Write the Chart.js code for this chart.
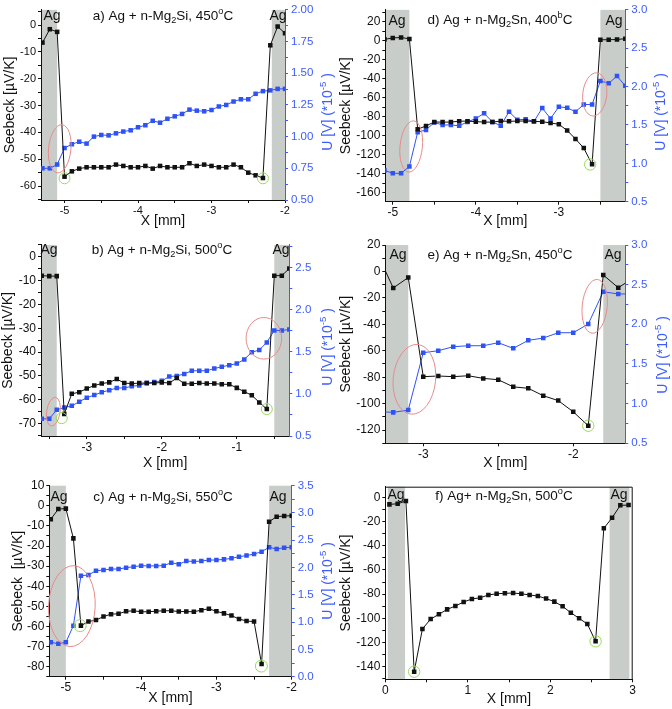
<!DOCTYPE html>
<html>
<head>
<meta charset="utf-8">
<script src="https://cdn.jsdelivr.net/npm/chart.js@4.4.0/dist/chart.umd.min.js"></script>
<style>
  html, body { margin: 0; padding: 0; background: #fff; }
  #wrap { position: relative; width: 672px; height: 709px; }
  canvas { position: absolute; }
</style>
</head>
<body>
<div id="wrap">
  <canvas id="panelA" width="336" height="235" style="left:0;top:0"></canvas>
  <canvas id="panelD" width="336" height="235" style="left:336px;top:0"></canvas>
  <canvas id="panelB" width="336" height="235" style="left:0;top:235px"></canvas>
  <canvas id="panelE" width="336" height="235" style="left:336px;top:235px"></canvas>
  <canvas id="panelC" width="336" height="239" style="left:0;top:470px"></canvas>
  <canvas id="panelF" width="336" height="239" style="left:336px;top:470px"></canvas>
</div>
<script>
// ---- data (x in mm, Seebeck in µV/K, U in 1e-5 V) ----
const xA = [-5.3,-5.2,-5.1,-5.0,-4.9,-4.8,-4.7,-4.6,-4.5,-4.4,-4.3,-4.2,-4.1,-4.0,-3.9,-3.8,-3.7,-3.6,-3.5,-3.4,-3.3,-3.2,-3.1,-3.0,-2.9,-2.8,-2.7,-2.6,-2.5,-2.4,-2.3,-2.2,-2.1,-2.0];
const seebeckA = [-6.5,-1.5,-2.5,-56.5,-54.5,-53.5,-53,-53,-53,-53,-52,-52.5,-53,-53,-52.5,-53.5,-52.5,-53,-53,-53,-51.5,-52.5,-52,-52.5,-53,-53,-52,-53,-55,-56,-57,-7.5,-0.5,-3];
const voltA = [0.75,0.75,0.78,0.91,0.94,0.96,0.945,1.0,1.013,1.01,1.026,1.04,1.05,1.074,1.09,1.125,1.11,1.141,1.16,1.179,1.213,1.205,1.2,1.21,1.238,1.25,1.277,1.295,1.295,1.338,1.359,1.365,1.377,1.377];

const xB = [-3.6,-3.5,-3.4,-3.3,-3.2,-3.1,-3.0,-2.9,-2.8,-2.7,-2.6,-2.5,-2.4,-2.3,-2.2,-2.1,-2.0,-1.9,-1.8,-1.7,-1.6,-1.5,-1.4,-1.3,-1.2,-1.1,-1.0,-0.9,-0.8,-0.7,-0.6,-0.5,-0.4,-0.3];
const seebeckB = [-7.9,-8.1,-8.1,-66,-57.5,-56.8,-55.3,-54,-53.2,-52.7,-51.3,-53,-53.2,-53,-53,-53,-52.7,-53,-50.9,-53.3,-53.3,-53,-53.2,-53.2,-53.5,-53.5,-55,-56.6,-58.1,-61.1,-63.9,-7.9,-7.9,-4.9];
const voltB = [0.704,0.704,0.812,0.838,0.858,0.908,0.955,0.986,1.02,1.044,1.07,1.07,1.09,1.101,1.128,1.14,1.155,1.206,1.214,1.237,1.275,1.275,1.275,1.302,1.322,1.341,1.36,1.41,1.495,1.522,1.611,1.754,1.754,1.765];

const xC = [-5.2,-5.1,-5.0,-4.9,-4.8,-4.7,-4.6,-4.5,-4.4,-4.3,-4.2,-4.1,-4.0,-3.9,-3.8,-3.7,-3.6,-3.5,-3.4,-3.3,-3.2,-3.1,-3.0,-2.9,-2.8,-2.7,-2.6,-2.5,-2.4,-2.3,-2.2,-2.1,-2.0];
const seebeckC = [-6.7,-1.6,-1.4,-16.2,-59.6,-57.6,-56.8,-55.1,-53.9,-53.7,-52.5,-52.2,-52.7,-52.7,-52.4,-52.2,-52.2,-52.6,-52.6,-52.7,-51.9,-51.2,-52.5,-53.5,-54.6,-56.3,-57.3,-57.6,-78.7,-7.9,-5.4,-5.1,-4.9];
const voltC = [0.63,0.605,0.63,0.934,1.851,1.864,1.942,1.955,1.973,1.973,1.997,2.016,2.034,2.03,2.03,2.034,2.089,2.06,2.12,2.11,2.12,2.138,2.138,2.15,2.169,2.199,2.22,2.248,2.29,2.371,2.34,2.365,2.371];

const xD = [-5.1,-5.0,-4.9,-4.8,-4.7,-4.6,-4.5,-4.4,-4.3,-4.2,-4.1,-4.0,-3.9,-3.8,-3.7,-3.6,-3.5,-3.4,-3.3,-3.2,-3.1,-3.0,-2.9,-2.8,-2.7,-2.6,-2.5,-2.4,-2.3,-2.2];
const seebeckD = [1.5,3,3.5,2,-93,-89.5,-85.4,-85.5,-85.5,-84.5,-84.5,-85,-85.5,-85.5,-84.4,-84.7,-84.4,-84.4,-84.7,-85.1,-86.4,-87.8,-94.3,-103.2,-112.8,-129.9,1.1,1.1,1.4,2.2];
const voltD = [0.908,0.87,0.87,0.959,1.406,1.435,1.533,1.5,1.5,1.49,1.54,1.584,1.652,1.54,1.49,1.673,1.567,1.575,1.546,1.72,1.584,1.737,1.724,1.673,1.767,1.767,2.073,2.043,2.137,2.01];

const xE = [-3.3,-3.2,-3.1,-3.0,-2.9,-2.8,-2.7,-2.6,-2.5,-2.4,-2.3,-2.2,-2.1,-2.0,-1.9,-1.8,-1.7,-1.6];
const seebeckE = [12,-12.5,-4.6,-79.6,-79.1,-79.6,-78.9,-80.9,-81.9,-87.3,-88.4,-94,-97.7,-106.2,-116.7,-2.7,-12.3,-5];
const voltE = [0.9,0.89,0.919,1.642,1.667,1.718,1.73,1.73,1.768,1.697,1.798,1.827,1.894,1.894,2.004,2.411,2.382,2.385];

const xF = [0.05,0.15,0.25,0.35,0.45,0.55,0.65,0.75,0.85,0.95,1.05,1.15,1.25,1.35,1.45,1.55,1.65,1.75,1.85,1.95,2.05,2.15,2.25,2.35,2.45,2.55,2.65,2.75,2.85,2.95];
const seebeckF = [-5.8,-5.3,-3.1,-144.1,-108.8,-100.6,-96.7,-92.6,-89.8,-86.5,-84,-83,-80.7,-79.7,-79.3,-79.1,-79.7,-80.7,-81.6,-83.7,-86.2,-90.1,-95.4,-100,-104.7,-119,-25.6,-16.9,-6.6,-6.4];

// tick labels
const xTicksA = [-5,-4,-3,-2], yTicksA = [-60,-50,-40,-30,-20,-10,0], uTicksA = [0.5,0.75,1.0,1.25,1.5,1.75,2.0];
const xTicksB = [-3,-2,-1], yTicksB = [-70,-60,-50,-40,-30,-20,-10,0], uTicksB = [0.5,1.0,1.5,2.0,2.5];
const xTicksC = [-5,-4,-3,-2], yTicksC = [-80,-70,-60,-50,-40,-30,-20,-10,0,10], uTicksC = [0,0.5,1.0,1.5,2.0,2.5,3.0,3.5];
const xTicksD = [-5,-4,-3], yTicksD = [-160,-140,-120,-100,-80,-60,-40,-20,0,20], uTicksD = [0.5,1.0,1.5,2.0,2.5,3.0];
const xTicksE = [-3,-2], yTicksE = [-120,-100,-80,-60,-40,-20,0,20], uTicksE = [0.5,1.0,1.5,2.0,2.5,3.0];
const xTicksF = [0,1,2,3], yTicksF = [-140,-120,-100,-80,-60,-40,-20,0];

// ---- styling ----
const FONT = "'Liberation Sans', Arial, Helvetica, sans-serif";
const BLACK = '#111111';
const BLUE = '#2f52f5';
const BLUE_AXIS = '#3d5cff';
const AG_GRAY = '#c9cdca';
const RED = '#e88a8a';
const GREEN = '#95dd5a';
Chart.defaults.font.family = FONT;

const RIGHT_TITLE = [['U [V] (*10', 'n'], ['-5', 'sup'], [' )', 'n']];

function tickList(majors, min, max) {
  const step = Math.abs(majors[1] - majors[0]);
  const lo = Math.min(...majors);
  const vals = majors.slice();
  for (let v = lo - step / 2; v >= min - 1e-9; v -= step) vals.push(Math.round(v * 1000) / 1000);
  for (let v = lo + step / 2; v <= max + 1e-9; v += step) vals.push(Math.round(v * 1000) / 1000);
  return [...new Set(vals)].sort((a, b) => a - b).map(v => ({value: v}));
}

function axis(range, majors, fmt, color, size, extra) {
  const majorSet = new Set(majors);
  return Object.assign({
    type: 'linear',
    min: range[0],
    max: range[1],
    afterBuildTicks: s => { s.ticks = tickList(majors, range[0], range[1]); },
    ticks: {
      autoSkip: false, maxRotation: 0, color, padding: 2,
      font: {size},
      callback: v => majorSet.has(v) ? fmt(v) : ''
    },
    grid: {drawOnChartArea: false, drawTicks: true, tickLength: 3, color},
    border: {display: true, color, width: 1}
  }, extra);
}

function drawRich(ctx, parts, x, y, size) {
  const fontFor = p => `${p[1] === 'n' ? size : size * 0.68}px ${FONT}`;
  let total = 0;
  parts.forEach(p => { ctx.font = fontFor(p); total += ctx.measureText(p[0]).width; });
  let cx = x - total / 2;
  ctx.textAlign = 'left';
  parts.forEach(p => {
    ctx.font = fontFor(p);
    const dy = p[1] === 'sub' ? size * 0.32 : p[1] === 'sup' ? -size * 0.36 : 0;
    ctx.fillText(p[0], cx, y + dy);
    cx += ctx.measureText(p[0]).width;
  });
}

function decor(p) {
  return {
    id: 'decor',
    beforeDraw(chart) {
      const {ctx, chartArea: a} = chart;
      const x = chart.scales.x;
      ctx.save();
      ctx.fillStyle = AG_GRAY;
      p.bands.forEach(([x0, x1]) => {
        const l = x.getPixelForValue(x0), r = x.getPixelForValue(x1);
        ctx.fillRect(l, a.top, r - l, a.bottom - a.top);
      });
      ctx.restore();
    },
    afterDatasetsDraw(chart) {
      const {ctx} = chart;
      const x = chart.scales.x, y = chart.scales.y;
      ctx.save();
      ctx.lineWidth = 1;
      p.marks.forEach(m => {
        ctx.strokeStyle = m.c;
        ctx.beginPath();
        ctx.ellipse(x.getPixelForValue(m.x), y.getPixelForValue(m.y), m.rx, m.ry, m.rot || 0, 0, Math.PI * 2);
        ctx.stroke();
      });
      ctx.restore();
    },
    afterDraw(chart) {
      const {ctx, chartArea: a} = chart;
      ctx.save();
      ctx.textBaseline = 'middle';
      ctx.fillStyle = BLACK;
      drawRich(ctx, p.title, p.titlePos[0], p.titlePos[1], 13.5);
      ctx.font = `14px ${FONT}`;
      ctx.textAlign = 'center';
      p.agPos.forEach(([px, py]) => ctx.fillText('Ag', px, py));
      if (p.v) {
        ctx.translate(p.rtPos[0], p.rtPos[1]);
        ctx.rotate(-Math.PI / 2);
        ctx.fillStyle = BLUE_AXIS;
        drawRich(ctx, RIGHT_TITLE, 0, 0, 14);
      } else {
        ctx.strokeStyle = BLACK;
        ctx.lineWidth = 1;
        ctx.beginPath();
        ctx.moveTo(a.left, a.top + 0.5);
        ctx.lineTo(a.right - 0.5, a.top + 0.5);
        ctx.lineTo(a.right - 0.5, a.bottom);
        ctx.stroke();
      }
      ctx.restore();
    }
  };
}

function makeChart(id, p) {
  const b = p.box;
  const series = (ys, color, axisId) => ({
    data: p.xs.map((x, i) => ({x, y: ys[i]})),
    yAxisID: axisId,
    showLine: true,
    borderColor: color,
    backgroundColor: color,
    borderWidth: 1,
    pointStyle: 'rect',
    pointRadius: 3.2,
    pointBorderWidth: 0,
    pointBackgroundColor: color
  });
  const datasets = [series(p.s, BLACK, 'y')];
  if (p.v) datasets.push(series(p.v, BLUE, 'y2'));

  const scales = {
    x: axis(p.xRange, p.xTicks, v => String(v), BLACK, p.tickSize, {
      position: 'bottom',
      afterFit: s => { s.height = b.h - b.B; },
      title: {display: true, text: 'X [mm]', color: BLACK, font: {size: 14, lineHeight: 1}, padding: {top: 0, bottom: p.pads[0]}}
    }),
    y: axis(p.yRange, p.yTicks, v => String(v), BLACK, p.tickSize, {
      position: 'left',
      afterFit: s => { s.width = b.L; },
      title: {display: true, text: p.yTitle, color: BLACK, font: {size: 14, lineHeight: 1}, padding: {top: p.pads[1], bottom: 0}}
    })
  };
  scales.x.ticks.padding = 1;
  if (p.v) {
    scales.y2 = axis(p.uRange, p.uTicks, v => v.toFixed(p.uDec), BLUE_AXIS, 11.5, {
      position: 'right',
      afterFit: s => { s.width = b.w - b.R; }
    });
    scales.y2.ticks.padding = 3;
  }

  new Chart(document.getElementById(id), {
    type: 'scatter',
    data: {datasets},
    options: {
      responsive: false,
      animation: false,
      devicePixelRatio: 1,
      layout: {padding: {top: b.T, left: 0, bottom: 0, right: p.v ? 0 : b.w - b.R}},
      plugins: {legend: {display: false}, tooltip: {enabled: false}},
      scales
    },
    plugins: [decor(p)]
  });
}

const title = (letter, sep, mat, temp, sup) =>
  [[letter + ') Ag' + sep + 'n-Mg', 'n'], ['2', 'sub'], [mat + ', ' + temp, 'n'], [sup, 'sup'], ['C', 'n']];

makeChart('panelA', {
  xs: xA, s: seebeckA, v: voltA,
  xRange: [-5.32, -2], yRange: [-65.2, 5.7], uRange: [0.5, 2.0],
  xTicks: xTicksA, yTicks: yTicksA, uTicks: uTicksA, uDec: 2, tickSize: 11,
  yTitle: 'Seebeck [µV/K]',
  box: {w: 336, h: 235, L: 41, R: 285, T: 5, B: 200}, pads: [7, 3],
  bands: [[-5.32, -5.1], [-2.18, -2.0]],
  marks: [
    {x: -5.065, y: -46.1, rx: 11.2, ry: 24.2, rot: 0.1, c: RED},
    {x: -5.0, y: -57.1, rx: 5.5, ry: 5.5, c: GREEN},
    {x: -2.3, y: -57.1, rx: 5.5, ry: 5.5, c: GREEN}
  ],
  title: title('a', ' + ', 'Si', '450', 'o'), titlePos: [163, 16],
  agPos: [[52, 16], [278, 16]], rtPos: [328, 112]
});

makeChart('panelD', {
  xs: xD, s: seebeckD, v: voltD,
  xRange: [-5.09, -2.2], yRange: [-169.2, 32.5], uRange: [0.5, 3.0],
  xTicks: xTicksD, yTicks: yTicksD, uTicks: uTicksD, uDec: 1, tickSize: 12,
  yTitle: 'Seebeck [µV/K]',
  box: {w: 336, h: 235, L: 49.3, R: 289.3, T: 5, B: 201.7}, pads: [7, 3],
  bands: [[-5.09, -4.8], [-2.5, -2.2]],
  marks: [
    {x: -4.778, y: -111.1, rx: 11.2, ry: 25.7, rot: 0.1, c: RED},
    {x: -2.568, y: -56.4, rx: 12, ry: 21.7, rot: 0.1, c: RED},
    {x: -2.623, y: -130, rx: 5.7, ry: 5.7, c: GREEN}
  ],
  title: title('d', ' + ', 'Sn', '400', 'b'), titlePos: [164, 20],
  agPos: [[61, 21], [278, 21]], rtPos: [325, 112]
});

makeChart('panelB', {
  xs: xB, s: seebeckB, v: voltB,
  xRange: [-3.61, -0.3], yRange: [-75.2, 5], uRange: [0.5, 2.77],
  xTicks: xTicksB, yTicks: yTicksB, uTicks: uTicksB, uDec: 1, tickSize: 12,
  yTitle: 'Seebeck [µV/K]',
  box: {w: 336, h: 235, L: 41, R: 289.3, T: 5, B: 201}, pads: [0, 1.3],
  bands: [[-3.61, -3.4], [-0.5, -0.3]],
  marks: [
    {x: -3.445, y: -65.0, rx: 6.7, ry: 14.5, rot: 0.15, c: RED},
    {x: -0.639, y: -34.2, rx: 17.8, ry: 20.8, rot: 0, c: RED},
    {x: -3.333, y: -67.7, rx: 5.5, ry: 5.5, c: GREEN},
    {x: -0.6, y: -63.9, rx: 5.5, ry: 5.5, c: GREEN}
  ],
  title: title('b', ' + ', 'Si', '500', 'o'), titlePos: [162, 15],
  agPos: [[49, 15], [281, 15]], rtPos: [328, 112]
});

makeChart('panelE', {
  xs: xE, s: seebeckE, v: voltE,
  xRange: [-3.253, -1.653], yRange: [-130, 20], uRange: [0.5, 3.0],
  xTicks: xTicksE, yTicks: yTicksE, uTicks: uTicksE, uDec: 1, tickSize: 12,
  yTitle: 'Seebeck [µV/K]',
  box: {w: 336, h: 235, L: 49.3, R: 289.3, T: 10, B: 208.3}, pads: [0.3, 3],
  bands: [[-3.253, -3.1], [-1.8, -1.653]],
  marks: [
    {x: -3.059, y: -81.6, rx: 21.2, ry: 35, rot: 0.1, c: RED},
    {x: -1.857, y: -26.4, rx: 12.5, ry: 27, rot: 0.1, c: RED},
    {x: -1.9, y: -116.7, rx: 5.7, ry: 5.7, c: GREEN}
  ],
  title: title('e', ' + ', 'Sn', '450', 'o'), titlePos: [164, 20],
  agPos: [[62, 20], [277, 20]], rtPos: [327, 120]
});

makeChart('panelC', {
  xs: xC, s: seebeckC, v: voltC,
  xRange: [-5.22, -2], yRange: [-85, 10], uRange: [0, 3.5],
  xTicks: xTicksC, yTicks: yTicksC, uTicks: uTicksC, uDec: 1, tickSize: 12,
  yTitle: 'Seebeck  [µV/K]',
  box: {w: 336, h: 239, L: 49.3, R: 291.7, T: 15.7, B: 206.7}, pads: [3.7, 11.3],
  bands: [[-5.22, -5.0], [-2.3, -2.0]],
  marks: [
    {x: -4.92, y: -49.9, rx: 23.3, ry: 40.5, rot: 0.05, c: RED},
    {x: -4.81, y: -59.6, rx: 6, ry: 6, c: GREEN},
    {x: -2.403, y: -79.7, rx: 6, ry: 6, c: GREEN}
  ],
  title: title('c', ' + ', 'Si', '550', 'o'), titlePos: [163, 27],
  agPos: [[59, 27], [278, 27]], rtPos: [328, 111]
});

makeChart('panelF', {
  xs: xF, s: seebeckF, v: null,
  xRange: [0, 3], yRange: [-150.4, 8.8],
  xTicks: xTicksF, yTicks: yTicksF, tickSize: 12,
  yTitle: 'Seebeck [µV/K]',
  box: {w: 336, h: 239, L: 49.3, R: 296.7, T: 16.7, B: 209.3}, pads: [2.7, 3],
  bands: [[0.03, 0.24], [2.72, 2.96]],
  marks: [
    {x: 0.35, y: -144.1, rx: 5.7, ry: 5.7, c: GREEN},
    {x: 2.55, y: -119, rx: 5.7, ry: 5.7, c: GREEN}
  ],
  title: title('f', '+ ', 'Sn', '500', 'o'), titlePos: [168, 26],
  agPos: [[60, 25], [283, 25]]
});
</script>
</body>
</html>
